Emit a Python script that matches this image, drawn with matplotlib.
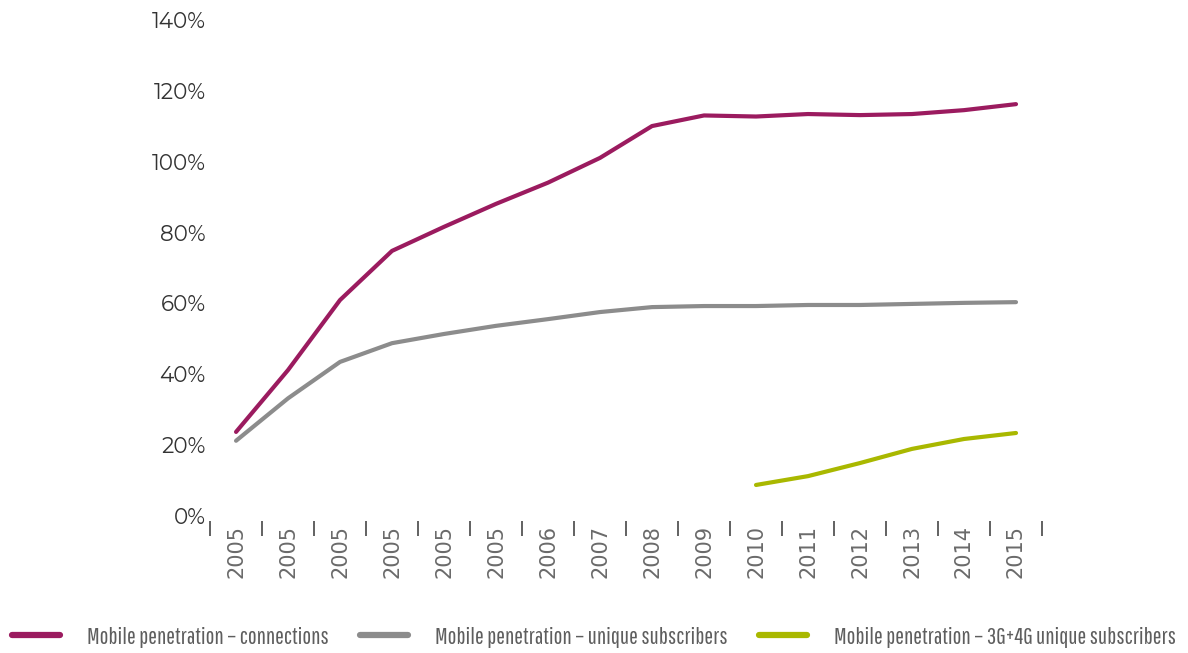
import matplotlib
matplotlib.use('Agg')
import matplotlib.pyplot as plt
from matplotlib.ticker import FixedLocator, FuncFormatter

# Etiquetas del eje x y series de penetración móvil (%)
years = ['2005', '2005', '2005', '2005', '2005', '2005', '2006', '2007',
         '2008', '2009', '2010', '2011', '2012', '2013', '2014', '2015']
connections = [23.5, 41, 60.8, 74.7, 81.5, 88, 94, 101,
               110, 113, 112.7, 113.4, 113.1, 113.4, 114.5, 116.2]
unique_subs = [21, 33, 43.3, 48.6, 51.2, 53.5, 55.4, 57.4,
               58.8, 59.1, 59.1, 59.4, 59.4, 59.7, 60, 60.2]
unique_3g4g = [None] * 10 + [8.5, 11, 14.7, 18.7, 21.5, 23.2]

series_names = ['Mobile penetration – connections',
                'Mobile penetration – unique subscribers',
                'Mobile penetration – 3G+4G unique subscribers']
colors = ['#9b1b5f', '#8c8c8c', '#a9b800']

narrow = ['Pathway Gothic One', 'Barlow Condensed', 'DejaVu Sans']
geo = ['Montserrat Alternates', 'DejaVu Sans']

fig = plt.figure(figsize=(11.88, 6.53), dpi=100)
ax = fig.add_axes([0.1768, 0.2113, 0.7003, 0.7581])

x = list(range(len(years)))
for vals, c, name in zip([connections, unique_subs, unique_3g4g], colors, series_names):
    xs = [i for i, v in zip(x, vals) if v is not None]
    ys = [v for v in vals if v is not None]
    ax.plot(xs, ys, color=c, lw=3.0, solid_capstyle='round', label=name)

ax.set_xlim(-0.5, len(years) - 0.5)
ax.set_ylim(0, 140)
ax.set_yticks(range(0, 141, 20))
ax.yaxis.set_major_formatter(FuncFormatter(lambda v, p: f'{int(v)}%'))
ax.tick_params(axis='y', length=0, pad=3, labelsize=15.5, labelcolor='#333333')

ax.set_xticks(x)
ax.set_xticklabels(years)
ax.xaxis.set_minor_locator(FixedLocator([i - 0.5 for i in range(len(years) + 1)]))
ax.tick_params(axis='x', which='major', length=0, pad=3, labelrotation=90,
               labelsize=15, labelcolor='#6a6a6a')
ax.tick_params(axis='x', which='minor', length=11, width=1.3, color='#555555')

for lbl in ax.get_yticklabels():
    lbl.set_family(geo)
for lbl in ax.get_xticklabels():
    lbl.set_family(narrow)

for s in ['top', 'right', 'left']:
    ax.spines[s].set_visible(False)
ax.spines['bottom'].set_position(('outward', 4))
ax.spines['bottom'].set_visible(False)

leg = fig.legend(loc='center', bbox_to_anchor=(0.5, 0.0245), ncol=3, frameon=False,
                 handlelength=2.05, handletextpad=1.15, columnspacing=1.37,
                 prop={'family': narrow, 'size': 16.8})
for t in leg.get_texts():
    t.set_color('#5e5e5e')
for h in leg.get_lines():
    h.set_linewidth(4.5)

fig.savefig('out.png', dpi=100)
